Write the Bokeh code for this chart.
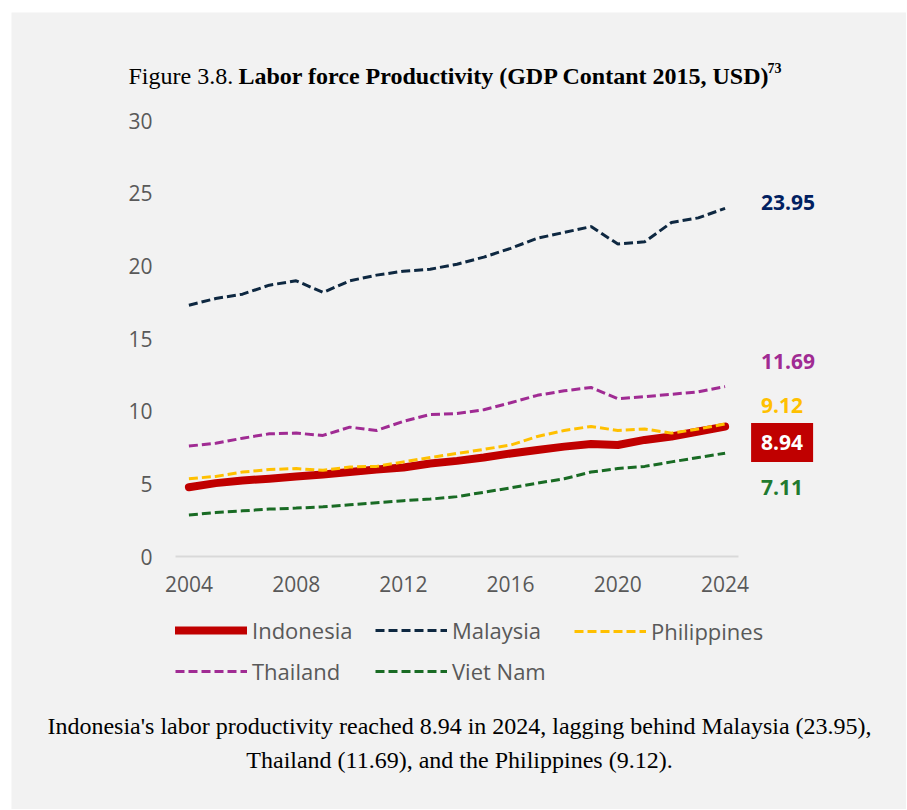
from bokeh.plotting import figure
from bokeh.models import Range1d, FixedTicker, Label, Legend, LegendItem
from bokeh.embed import file_html
from bokeh.resources import INLINE

years = list(range(2004, 2025))
indonesia = [4.77, 5.05, 5.23, 5.35, 5.51, 5.65, 5.81, 5.98, 6.12, 6.40, 6.58,
             6.81, 7.09, 7.33, 7.56, 7.74, 7.67, 8.02, 8.26, 8.60, 8.94]
malaysia = [17.29, 17.75, 18.05, 18.67, 18.97, 18.17, 18.97, 19.36, 19.63, 19.77, 20.11,
            20.60, 21.20, 21.90, 22.30, 22.70, 21.50, 21.65, 22.98, 23.30, 23.95]
philippines = [5.35, 5.51, 5.81, 5.98, 6.05, 5.93, 6.16, 6.20, 6.51, 6.81, 7.09,
               7.37, 7.67, 8.26, 8.67, 8.95, 8.67, 8.77, 8.49, 8.77, 9.12]
thailand = [7.60, 7.79, 8.14, 8.44, 8.49, 8.33, 8.90, 8.67, 9.30, 9.77, 9.84,
            10.10, 10.58, 11.09, 11.40, 11.63, 10.86, 11.00, 11.16, 11.33, 11.69]
vietnam = [2.86, 3.02, 3.14, 3.26, 3.33, 3.42, 3.56, 3.70, 3.84, 3.95, 4.12,
           4.42, 4.72, 5.05, 5.35, 5.81, 6.05, 6.20, 6.51, 6.81, 7.11]
y_ticks = [0, 5, 10, 15, 20, 25, 30]
x_ticks = [2004, 2008, 2012, 2016, 2020, 2024]

BG = "#f2f2f2"
SANS = "Open Sans"
SERIF = "Liberation Serif"
GREY = "#595959"

W, H = 895, 797
OX, OY = 11, 12                # canvas origin on the page


def sx(page_x):
    return page_x - OX


def sy(page_y):
    return H - (page_y - OY)


# plot-area placement on the canvas (pixels)
X0_PX, X1_PX = 164, 727      # x = 2003.5 .. 2024.5
Y0_PX, Y1_PX = 544, 108      # y = 0 .. 30 (from canvas top)
XA, XB = 2003.5, 2024.5
YA, YB = 0, 30
xs = (X1_PX - X0_PX) / (XB - XA)
ys = (Y0_PX - Y1_PX) / (YB - YA)
x_range = Range1d(XA - X0_PX / xs, XB + (W - X1_PX) / xs)
y_range = Range1d(YA - (H - Y0_PX) / ys, YB + Y1_PX / ys)

p = figure(width=W, height=H, output_backend="svg", toolbar_location=None,
           x_range=x_range, y_range=y_range,
           min_border_left=0, min_border_right=0, min_border_top=0, min_border_bottom=0,
           background_fill_color=BG, border_fill_color=BG,
           outline_line_color=None, margin=(OY, 0, 0, OX))
p.xgrid.visible = False
p.ygrid.visible = False

p.yaxis.ticker = FixedTicker(ticks=y_ticks)
p.xaxis.ticker = FixedTicker(ticks=x_ticks)
for ax in (p.xaxis[0], p.yaxis[0]):
    ax.major_tick_line_color = None
    ax.minor_tick_line_color = None
    ax.major_label_text_font = SANS
    ax.major_label_text_font_size = "21px"
    ax.major_label_text_color = GREY
p.yaxis.fixed_location = XA
p.yaxis.bounds = (YA, YB)
p.yaxis.axis_line_color = None
p.yaxis.major_label_standoff = 17
p.xaxis.fixed_location = YA
p.xaxis.bounds = (XA, XB)
p.xaxis.axis_line_color = "#d9d9d9"
p.xaxis.axis_line_width = 2
p.xaxis.major_label_standoff = 13

DASH = "9 4"
renderers = {}
renderers["Malaysia"] = p.line(years, malaysia, line_color="#0e2841", line_width=3, line_dash=DASH)
renderers["Thailand"] = p.line(years, thailand, line_color="#a02b93", line_width=3, line_dash=DASH)
renderers["Viet Nam"] = p.line(years, vietnam, line_color="#196b24", line_width=3, line_dash=DASH)
renderers["Indonesia"] = p.line(years, indonesia, line_color="#c00000", line_width=8,
                                line_cap="round", line_join="round")
renderers["Philippines"] = p.line(years, philippines, line_color="#ffc000", line_width=3,
                                  line_dash=DASH)

# legend: one vertical legend per column so the columns line up like the reference
legend_cols = [
    (["Indonesia", "Thailand"], 175, 685.5),
    (["Malaysia", "Viet Nam"], 375, 685.5),
    (["Philippines"], 574, 645.5),
]
for names, left, bottom in legend_cols:
    lg = Legend(items=[LegendItem(label=n, renderers=[renderers[n]]) for n in names],
                orientation="vertical", location=(sx(left), sy(bottom)),
                glyph_width=72, glyph_height=20, label_height=20, label_standoff=5,
                spacing=11, padding=0, margin=0, border_line_color=None,
                background_fill_alpha=0, label_text_font=SANS,
                label_text_font_size="22px", label_text_color=GREY)
    p.add_layout(lg, "center")

# end-value labels
end_labels = [
    (malaysia[-1], "#002060", 6),
    (thailand[-1], "#a02b93", 25),
    (philippines[-1], "#ffc000", 18),
    (vietnam[-1], "#217a2f", -34),
]
for v, col, off in end_labels:
    p.add_layout(Label(x=years[-1], y=v, x_offset=36, y_offset=off, text=f"{v:.2f}",
                       text_color=col, text_font=SANS, text_font_style="bold",
                       text_font_size="21px", text_align="left", text_baseline="middle"))
p.add_layout(Label(x=years[-1], y=indonesia[-1], x_offset=26, y_offset=-16,
                   text=f"{indonesia[-1]:.2f}", text_color="white", text_font=SANS,
                   text_font_style="bold", text_font_size="21px", text_align="left",
                   text_baseline="middle", background_fill_color="#c00000",
                   padding=(10, 12)))

# title
p.add_layout(Label(x=sx(128), y=sy(75), x_units="screen", y_units="screen", text="Figure 3.8.",
                   text_font=SERIF, text_font_size="24px", text_color="black",
                   text_baseline="alphabetic"))
p.add_layout(Label(x=sx(238), y=sy(75), x_units="screen", y_units="screen",
                   text="Labor force Productivity (GDP Contant 2015, USD)",
                   text_font=SERIF, text_font_style="bold", text_font_size="24px",
                   text_color="black", text_baseline="alphabetic"))
p.add_layout(Label(x=sx(767), y=sy(67), x_units="screen", y_units="screen", text="73",
                   text_font=SERIF, text_font_style="bold", text_font_size="14px",
                   text_color="black", text_baseline="alphabetic"))

# caption
p.add_layout(Label(x=sx(459), y=sy(725), x_units="screen", y_units="screen",
                   text="Indonesia's labor productivity reached 8.94 in 2024, lagging behind Malaysia (23.95),",
                   text_font=SERIF, text_font_size="24px", text_color="black",
                   text_align="center", text_baseline="alphabetic"))
p.add_layout(Label(x=sx(459), y=sy(759), x_units="screen", y_units="screen",
                   text="Thailand (11.69), and the Philippines (9.12).",
                   text_font=SERIF, text_font_size="24px", text_color="black",
                   text_align="center", text_baseline="alphabetic"))

open("out.html", "w").write(file_html(p, INLINE))
